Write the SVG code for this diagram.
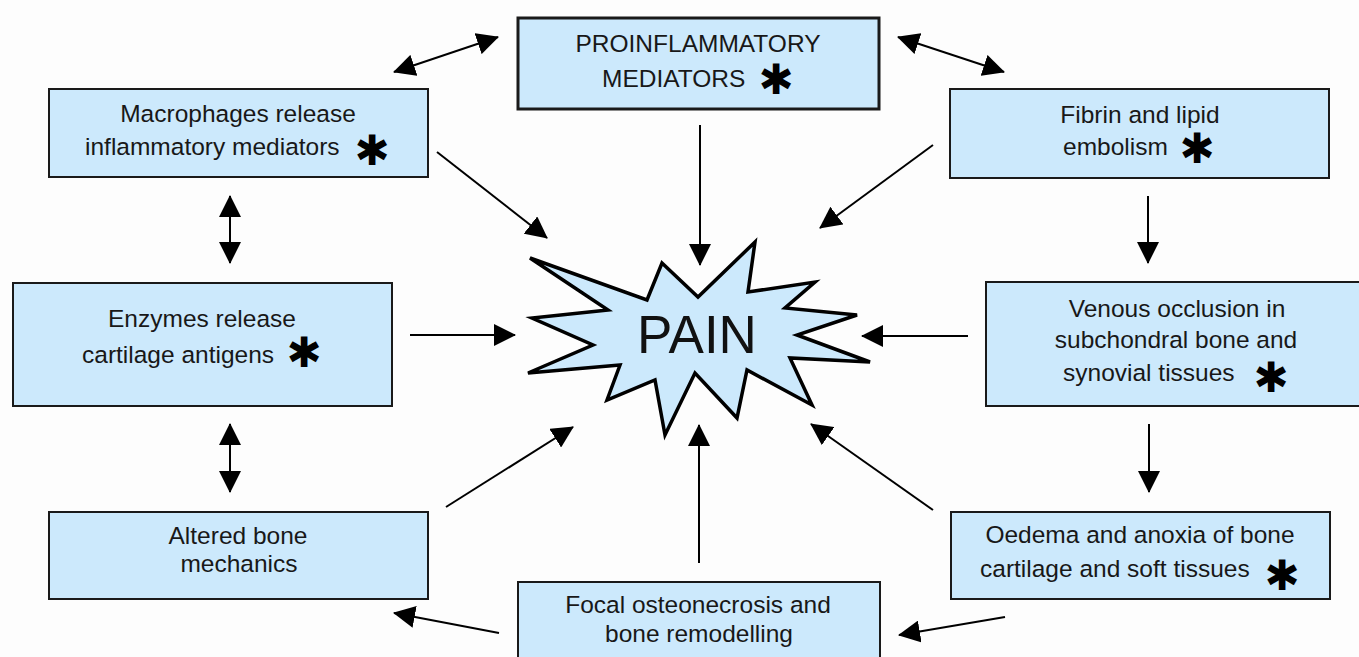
<svg xmlns="http://www.w3.org/2000/svg" width="1359" height="657" viewBox="0 0 1359 657">
<defs>
<style>
.box{fill:#cce9fc;stroke:#1a1a1a;stroke-width:2}
.boxb{fill:#cce9fc;stroke:#1a1a1a;stroke-width:3}
.t{font-family:"Liberation Sans",Arial,sans-serif;font-size:24.5px;fill:#181818}
.m{text-anchor:middle}
.ast{font-family:"DejaVu Sans",sans-serif;font-size:42px;fill:#000;text-anchor:middle;dominant-baseline:central}
.c{stroke:#000;stroke-width:2;fill:none;marker-end:url(#ah)}
.d{stroke:#000;stroke-width:2;fill:none;marker-end:url(#ah);marker-start:url(#ah)}
</style>
<marker id="ah" markerWidth="22" markerHeight="22" refX="21" refY="11" orient="auto-start-reverse" markerUnits="userSpaceOnUse">
<path d="M0,0 L22,11 L0,22 z" fill="#000"/>
</marker>
</defs>
<rect x="0" y="0" width="1359" height="657" fill="#fdfdfd"/>

<g id="connectors">
<line class="d" x1="394" y1="72" x2="498" y2="37"/>
<line class="d" x1="898" y1="37" x2="1004" y2="72"/>
<line class="d" x1="230" y1="196" x2="230" y2="263"/>
<line class="d" x1="230" y1="424" x2="230" y2="492"/>
<line class="c" x1="437" y1="152" x2="547" y2="238"/>
<line class="c" x1="700" y1="125" x2="700" y2="265"/>
<line class="c" x1="933" y1="145" x2="820" y2="228"/>
<line class="c" x1="1148" y1="196" x2="1148" y2="263"/>
<line class="c" x1="410" y1="335" x2="515" y2="335"/>
<line class="c" x1="968" y1="336" x2="862" y2="336"/>
<line class="c" x1="1149" y1="424" x2="1149" y2="492"/>
<line class="c" x1="446" y1="507" x2="573" y2="427"/>
<line class="c" x1="699" y1="563" x2="699" y2="425"/>
<line class="c" x1="933" y1="510" x2="811" y2="424"/>
<line class="c" x1="499" y1="633" x2="394" y2="613"/>
<line class="c" x1="1005" y1="617" x2="899" y2="635"/>
</g>

<g id="pain">
<path d="M530,258 L647,300 L662,263 L698,297 L755,242 L748,292 L815,282 L785,308 L857,315 L797,335 L870,362 L790,358 L812,405 L747,370 L737,418 L695,373 L665,435 L655,380 L607,400 L620,365 L528,373 L593,345 L532,318 L608,310 Z" fill="#cce9fc" stroke="#000" stroke-width="3.5" stroke-linejoin="miter"/>
<text x="697" y="353" font-family="'Liberation Sans',Arial,sans-serif" font-size="53" fill="#111" text-anchor="middle">PAIN</text>
</g>

<g id="proinflammatory">
<rect class="boxb" x="518" y="18" width="361" height="91"/>
<text class="t m" x="698" y="52">PROINFLAMMATORY</text>
<text class="t" x="602" y="87">MEDIATORS</text>
<text class="ast" x="776" y="79">✱</text>
</g>

<g id="macrophages">
<rect class="box" x="49" y="89" width="379" height="88"/>
<text class="t m" x="238" y="122">Macrophages release</text>
<text class="t" x="85" y="155">inflammatory mediators</text>
<text class="ast" x="372" y="150">✱</text>
</g>

<g id="fibrin">
<rect class="box" x="950" y="89" width="379" height="89"/>
<text class="t m" x="1140" y="123">Fibrin and lipid</text>
<text class="t" x="1063" y="155">embolism</text>
<text class="ast" x="1197" y="148">✱</text>
</g>

<g id="enzymes">
<rect class="box" x="13" y="283" width="379" height="123"/>
<text class="t m" x="202" y="327">Enzymes release</text>
<text class="t" x="82" y="363">cartilage antigens</text>
<text class="ast" x="304" y="352">✱</text>
</g>

<g id="venous">
<rect class="box" x="986" y="282" width="380" height="124"/>
<text class="t m" x="1177" y="317">Venous occlusion in</text>
<text class="t m" x="1176" y="348">subchondral bone and</text>
<text class="t" x="1063" y="381">synovial tissues</text>
<text class="ast" x="1271" y="377">✱</text>
</g>

<g id="altered">
<rect class="box" x="49" y="512" width="379" height="87"/>
<text class="t m" x="238" y="544">Altered bone</text>
<text class="t m" x="239" y="572">mechanics</text>
</g>

<g id="oedema">
<rect class="box" x="951" y="512" width="379" height="87"/>
<text class="t m" x="1140" y="543">Oedema and anoxia of bone</text>
<text class="t" x="980" y="577">cartilage and soft tissues</text>
<text class="ast" x="1282" y="575">✱</text>
</g>

<g id="focal">
<rect class="box" x="518" y="582" width="362" height="90"/>
<text class="t m" x="698" y="613">Focal osteonecrosis and</text>
<text class="t m" x="699" y="642">bone remodelling</text>
</g>
</svg>
